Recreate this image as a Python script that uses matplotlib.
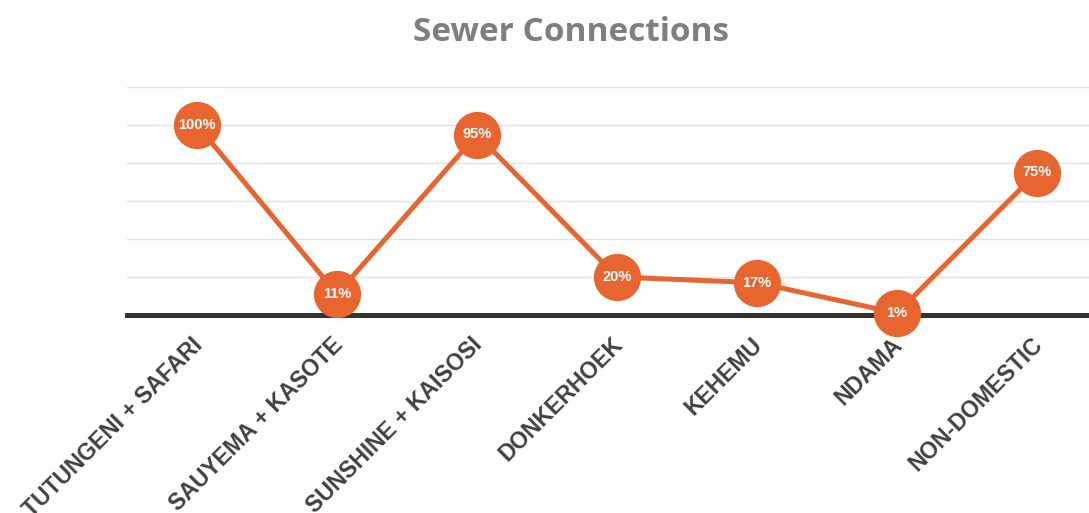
import matplotlib
matplotlib.use("Agg")
import matplotlib.pyplot as plt
from matplotlib.transforms import ScaledTranslation

# sewer connection coverage per area (%)
areas = ["TUTUNGENI + SAFARI", "SAUYEMA + KASOTE", "SUNSHINE + KAISOSI",
         "DONKERHOEK", "KEHEMU", "NDAMA", "NON-DOMESTIC"]
coverage = [100, 11, 95, 20, 17, 1, 75]
yticks = [0, 20, 40, 60, 80, 100, 120]

orange = "#E8652F"

fig = plt.figure(figsize=(10.89, 5.13), dpi=100)
ax = fig.add_axes([127 / 1089, 198 / 513, 962 / 1089, 228 / 513])

x = list(range(len(areas)))
ax.plot(x, coverage, color=orange, lw=3.6, marker="o", ms=33,
        markerfacecolor=orange, markeredgecolor=orange, zorder=4, clip_on=False)
for xi, v in zip(x, coverage):
    ax.text(xi, v, f"{v}%", color="white", fontsize=10.5, fontweight="bold",
            family="Liberation Sans", ha="center", va="center", zorder=5)

ax.set_ylim(0, 120)
ax.set_xlim(-0.5, 962 / 140 - 0.5)
ax.set_yticks(yticks)
ax.yaxis.grid(True, color="#e2e2e2", lw=1)
ax.set_axisbelow(True)
ax.tick_params(axis="y", length=0, labelleft=False)
for s in ["top", "right", "left"]:
    ax.spines[s].set_visible(False)
ax.spines["bottom"].set_color("#333333")
ax.spines["bottom"].set_linewidth(3.6)
ax.spines["bottom"].set_zorder(3)

ax.set_xticks(x)
ax.set_xticklabels(areas, rotation=45, ha="right", va="top", rotation_mode="anchor",
                   fontsize=16.5, fontweight="bold", family="Liberation Sans", color="#404040")
ax.tick_params(axis="x", length=0, pad=13)
shift = ScaledTranslation(-6 / 100, 0, fig.dpi_scale_trans)
for lbl in ax.get_xticklabels():
    lbl.set_transform(lbl.get_transform() + shift)

fig.text(571 / 1089, 1 - 41 / 513, "Sewer Connections", ha="center", va="baseline",
         fontsize=24, fontweight="bold", family="Open Sans", color="#7f7f7f")

fig.savefig("out.png", dpi=100)
